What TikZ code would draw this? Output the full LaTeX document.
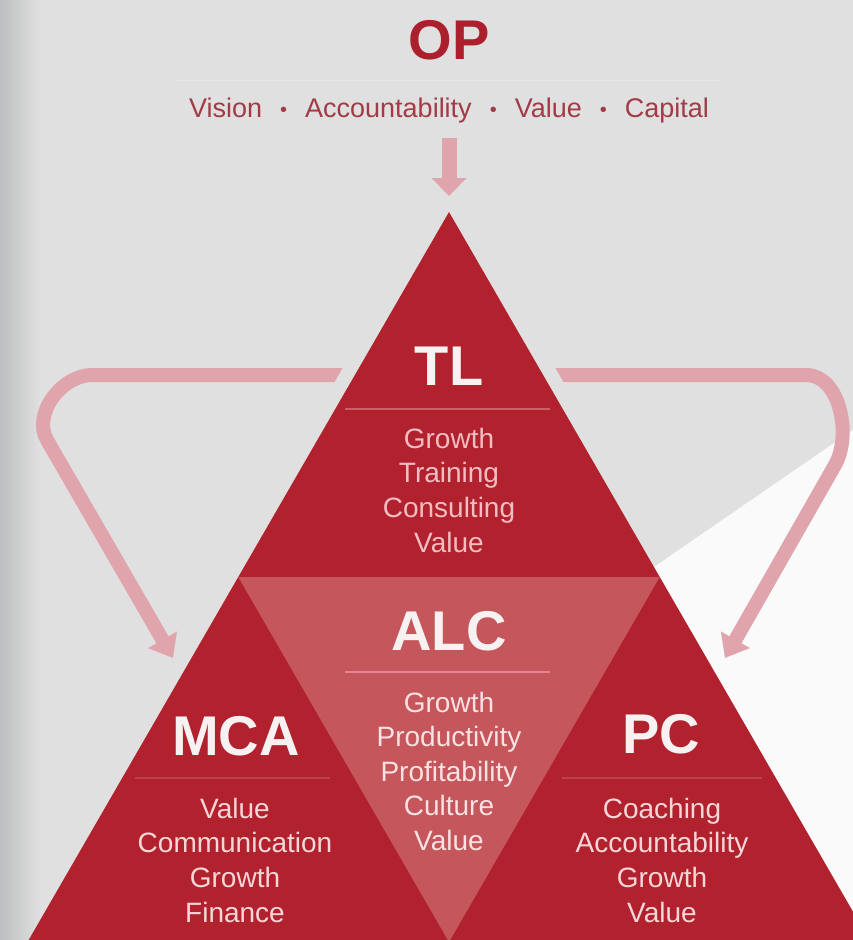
\documentclass[tikz,border=0pt]{standalone}
\usepackage{fontspec}
\setmainfont{Liberation Sans}
\usetikzlibrary{arrows.meta,calc}
\definecolor{bg}{HTML}{E0E0E0}
\definecolor{bgdark}{HTML}{BDBEBF}
\definecolor{whitebg}{HTML}{FAFAFA}
\definecolor{redmain}{HTML}{B2222E}
\definecolor{redlight}{HTML}{C5565B}
\definecolor{arrowpink}{HTML}{E0A4AC}
\definecolor{opred}{HTML}{AC1F2D}
\definecolor{subred}{HTML}{A23B46}
\definecolor{titlewhite}{HTML}{F8F1F1}
\definecolor{tlbody}{HTML}{F2BDC2}
\definecolor{alcbody}{HTML}{FAE2E3}
\definecolor{sidebody}{HTML}{F7D6D8}
\definecolor{tlline}{HTML}{CF5F67}
\definecolor{alcline}{HTML}{E2878D}
\definecolor{sideline}{HTML}{C0404A}
\definecolor{opline}{HTML}{E6E6E6}
\newcommand{\sepdot}{\hspace{18pt}\raisebox{1pt}{\fontsize{20}{22}\selectfont\textbullet}\hspace{18pt}}
\tikzset{
  titletext/.style={font=\bfseries\fontsize{56}{60}\selectfont, anchor=base, inner sep=0pt},
  bodytext/.style={font=\fontsize{28}{34}\selectfont, anchor=base, inner sep=0pt},
  pinkarrow/.style={draw=arrowpink, line width=14pt, -{Triangle[width=32pt,length=21pt]}, arrowpink},
}
\begin{document}
\begin{tikzpicture}[x=1pt,y=-1pt]
\useasboundingbox (0,0) rectangle (853,940);
% background
\fill[bg] (0,0) rectangle (853,940);
\shade[left color=bgdark, right color=bg] (0,0) rectangle (40,940);
\fill[whitebg] (853,430) -- (654,567) -- (660,940) -- (853,940) -- cycle;
% title
\node[titletext, text=opred] (op) at (449,59) {OP};
\draw[opline, line width=1pt] (175,80) -- (722,80);
\node[bodytext, font=\fontsize{27}{32}\selectfont, text=subred] (sub) at (449,117)
  {Vision\sepdot Accountability\sepdot Value\sepdot Capital};
% corner coordinates
\coordinate (apex) at (449,212);
\coordinate (bl) at (27.5,942);
\coordinate (br) at (870.5,942);
\coordinate (ml) at (238.3,577);
\coordinate (mr) at (659.7,577);
\coordinate (mb) at (449,942);
% top arrow
\coordinate (topstart) at (449,138);
\coordinate (toptip) at (449,196);
\draw[draw=arrowpink, line width=15pt, -{Triangle[width=34pt,length=18pt]}, arrowpink] (topstart) -- (toptip);
% side arrows
\coordinate (lstart) at (362,375);
\coordinate (ltip) at (173,658);
\coordinate (rstart) at (536,375);
\coordinate (rtip) at (725,658);
\draw[pinkarrow] (lstart) -- (92,375) .. controls (62,375) and (32,414) .. (47,440) -- (ltip);
\draw[pinkarrow] (rstart) -- (806,375) .. controls (840,375) and (852,435) .. (835,465) -- (rtip);
% gaps between arrows and triangle
\draw[bg, line width=28pt] ($(apex)!0.16!(bl)$) -- ($(apex)!0.28!(bl)$);
\draw[bg, line width=28pt] ($(apex)!0.16!(br)$) -- ($(apex)!0.28!(br)$);
% triangles
\fill[redmain] (apex) -- (br) -- (bl) -- cycle;
\fill[redlight] (ml) -- (mr) -- (mb) -- cycle;
% TL
\node[titletext, text=titlewhite] (tl) at (449,385) {TL};
\draw[tlline, line width=1.5pt] (345,409) -- (550,409);
\foreach \t [count=\i] in {Growth,Training,Consulting,Value}
  \node[bodytext, text=tlbody] (tl\i) at (449,{448+(\i-1)*34.7}) {\t};
% ALC
\node[titletext, text=titlewhite] (alc) at (449,650) {ALC};
\draw[alcline, line width=1.5pt] (345,672) -- (550,672);
\foreach \t [count=\i] in {Growth,Productivity,Profitability,Culture,Value}
  \node[bodytext, text=alcbody] (alc\i) at (449,{712+(\i-1)*34.5}) {\t};
% MCA
\node[titletext, text=titlewhite] (mca) at (236,755) {MCA};
\draw[sideline, line width=1.2pt] (135,778) -- (330,778);
\foreach \t [count=\i] in {Value,Communication,Growth,Finance}
  \node[bodytext, text=sidebody] (mca\i) at (235,{818+(\i-1)*34.7}) {\t};
% PC
\node[titletext, text=titlewhite] (pc) at (661,753) {PC};
\draw[sideline, line width=1.2pt] (562,778) -- (762,778);
\foreach \t [count=\i] in {Coaching,Accountability,Growth,Value}
  \node[bodytext, text=sidebody] (pc\i) at (662,{818+(\i-1)*34.7}) {\t};
\end{tikzpicture}
\end{document}
